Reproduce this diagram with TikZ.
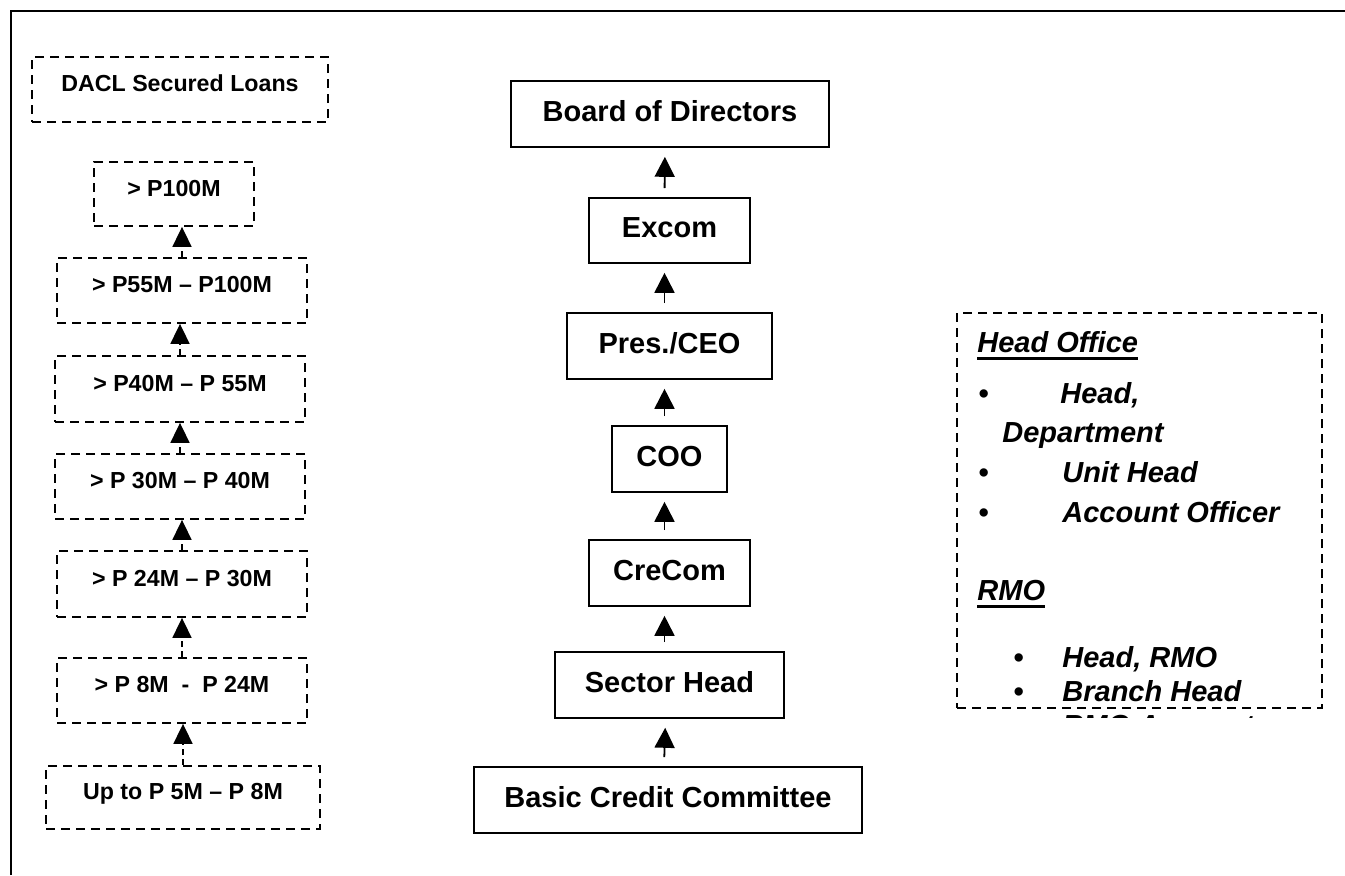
\documentclass[tikz,border=0pt]{standalone}
\usepackage{fontspec}
\setmainfont{Liberation Sans}
\usetikzlibrary{arrows.meta}
\begin{document}
\begin{tikzpicture}[x=0.5pt,y=-0.5pt,
  lbox/.style={draw, line width=0.9pt, dash pattern=on 4.5pt off 3pt, inner sep=0pt,
    font=\fontsize{11.6}{13}\selectfont\bfseries, text height=8.3pt, text depth=6pt},
  cbox/.style={draw, line width=0.8pt, inner sep=0pt,
    font=\fontsize{14.5}{17}\selectfont\bfseries, text height=10.4pt, text depth=3pt},
  larrow/.style={line width=0.9pt, dash pattern=on 3pt off 2pt, -{Triangle[length=10pt,width=9.5pt]}},
  carrow/.style={line width=0.9pt, shorten <=4.5pt, shorten >=4.5pt, -{Triangle[length=10pt,width=10pt]}},
  rtext/.style={anchor=base west, inner sep=0pt, font=\fontsize{14.5}{17}\selectfont\bfseries\itshape},
  uline/.style={line width=1.5pt},
  frameline/.style={line width=1pt}]
\useasboundingbox (0,0) rectangle (1345,875);
\draw[frameline] (11,875) -- (11,11) -- (1345,11);

% left column
\node[lbox, minimum width=148pt, minimum height=32.5pt] (dacl) at (180,89.5) {DACL Secured Loans};
\node[lbox, minimum width=80pt, minimum height=32pt] (p100) at (174,194) {> P100M};
\node[lbox, minimum width=125pt, minimum height=32.5pt] (p55) at (182,290.5) {> P55M – P100M};
\node[lbox, minimum width=125pt, minimum height=33pt] (p40) at (180,389) {> P40M – P 55M};
\node[lbox, minimum width=125pt, minimum height=32.5pt] (p30) at (180,486.5) {> P 30M – P 40M};
\node[lbox, minimum width=125pt, minimum height=33pt] (p24) at (182,584) {> P 24M – P 30M};
\node[lbox, minimum width=125pt, minimum height=32.5pt] (p8) at (182,690.5) {> P 8M\ \ -\ \ P 24M};
\node[lbox, minimum width=137pt, minimum height=31.5pt] (p5) at (183,797.5) {Up to P 5M – P 8M};

\draw[larrow] (p55.north) -- (p55.north |- p100.south);
\draw[larrow] (p40.north) -- (p40.north |- p55.south);
\draw[larrow] (p30.north) -- (p30.north |- p40.south);
\draw[larrow] (p24.north) -- (p24.north |- p30.south);
\draw[larrow] (p8.north) -- (p8.north |- p24.south);
\draw[larrow] (p5.north) -- (p5.north |- p8.south);

% center column
\node[cbox, minimum width=159pt, minimum height=33pt] (board) at (670,114) {Board of Directors};
\node[cbox, minimum width=80.5pt, minimum height=32.5pt] (excom) at (669.5,230.5) {Excom};
\node[cbox, minimum width=102.5pt, minimum height=33pt] (ceo) at (669.5,346) {Pres./CEO};
\node[cbox, minimum width=57.5pt, minimum height=33pt] (coo) at (669.5,459) {COO};
\node[cbox, minimum width=80.5pt, minimum height=33pt] (crecom) at (669.5,573) {CreCom};
\node[cbox, minimum width=114.5pt, minimum height=33pt] (sector) at (669.5,685) {Sector Head};
\node[cbox, minimum width=194pt, minimum height=33pt] (basic) at (668,800) {Basic Credit Committee};

\draw[carrow] ([xshift=-2.5pt]excom.north) -- ([xshift=-2.5pt]board.south);
\draw[carrow] ([xshift=-2.5pt]ceo.north) -- ([xshift=-2.5pt]excom.south);
\draw[carrow] ([xshift=-2.5pt]coo.north) -- ([xshift=-2.5pt]ceo.south);
\draw[carrow] ([xshift=-2.5pt]crecom.north) -- ([xshift=-2.5pt]coo.south);
\draw[carrow] ([xshift=-2.5pt]sector.north) -- ([xshift=-2.5pt]crecom.south);
\draw[carrow] ([xshift=-2pt]basic.north) -- ([xshift=-2pt]sector.south);

% right box contents
\node[rtext] (ho) at (977,352) {Head Office};
\draw[uline] ([yshift=-3pt]ho.base west) -- ([yshift=-3pt]ho.base east);
\node[rtext] (b1) at (978,403) {•};
\node[rtext] (t1) at (1060,403) {Head,};
\node[rtext] (t1b) at (1002,442) {Department};
\node[rtext] (b2) at (978,482) {•};
\node[rtext] (t2) at (1062,482) {Unit Head};
\node[rtext] (b3) at (978,522) {•};
\node[rtext] (t3) at (1062,522) {Account Officer};
\node[rtext] (rmo) at (977,600) {RMO};
\draw[uline] ([yshift=-3pt]rmo.base west) -- ([yshift=-3pt]rmo.base east);
\node[rtext] (b4) at (1013,667) {•};
\node[rtext] (t4) at (1062,667) {Head, RMO};
\node[rtext] (b5) at (1013,701) {•};
\node[rtext] (t5) at (1062,701) {Branch Head};
\begin{scope}
  \clip (957,313) rectangle (1322,717);
  \node[rtext] (b6) at (1013,735) {•};
  \node[rtext] (t6) at (1062,735) {RMO Account};
\end{scope}
% right box frame
\node[draw, line width=0.9pt, dash pattern=on 4.5pt off 3pt, inner sep=0pt,
  minimum width=182.5pt, minimum height=197.5pt] (rbox) at (1139.5,510.5) {};
\end{tikzpicture}
\end{document}
